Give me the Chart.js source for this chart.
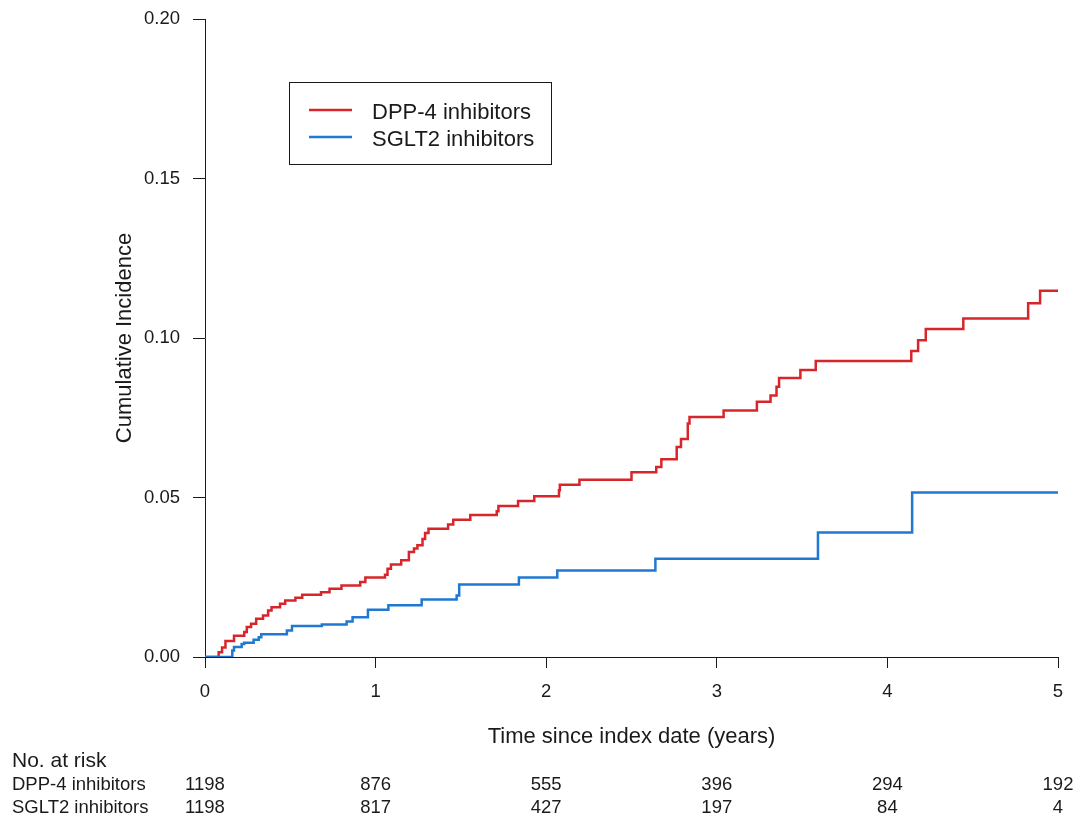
<!DOCTYPE html>
<html>
<head>
<meta charset="utf-8">
<script src="https://cdn.jsdelivr.net/npm/chart.js@4.4.1/dist/chart.umd.min.js"></script>
<style>
  html, body { margin: 0; padding: 0; background: #fff; }
  #wrap { width: 1078px; height: 819px; }
</style>
</head>
<body>
<div id="wrap"><canvas id="kmChart" width="1078" height="819"></canvas></div>
<script>
// cumulative incidence steps (time in years, value after the step)
const dppTimes = [0, 0.08, 0.10, 0.12, 0.17, 0.23, 0.245, 0.27, 0.30, 0.34, 0.37, 0.39, 0.44, 0.47, 0.53, 0.57,
  0.68, 0.73, 0.80, 0.91, 0.94, 1.055, 1.07, 1.09, 1.15, 1.195, 1.225, 1.245, 1.275, 1.29, 1.31, 1.425,
  1.455, 1.555, 1.71, 1.72, 1.835, 1.93, 2.075, 2.08, 2.195, 2.50, 2.645, 2.675, 2.765, 2.79, 2.83, 2.84,
  3.04, 3.235, 3.315, 3.35, 3.365, 3.49, 3.58, 4.14, 4.18, 4.225, 4.445, 4.825, 4.895, 5.0];
const dppInc = [0, 0.0015, 0.003, 0.005, 0.0067, 0.0078, 0.0094, 0.0104, 0.012, 0.013, 0.0146, 0.0156, 0.0167, 0.0177, 0.0186, 0.0195,
  0.0203, 0.0214, 0.0224, 0.0235, 0.0249, 0.0258, 0.0277, 0.029, 0.0303, 0.0329, 0.034, 0.035, 0.037, 0.0389, 0.0402, 0.0415,
  0.043, 0.0445, 0.0457, 0.0473, 0.0489, 0.0504, 0.0523, 0.054, 0.0556, 0.0579, 0.0596, 0.062, 0.0658, 0.0683, 0.0732, 0.0752,
  0.0773, 0.080, 0.082, 0.0847, 0.0875, 0.090, 0.0928, 0.0959, 0.0993, 0.1028, 0.1061, 0.1109, 0.1148, 0.1148];

const sgltTimes = [0, 0.16, 0.17, 0.215, 0.23, 0.285, 0.315, 0.33, 0.48, 0.51, 0.685, 0.83, 0.865, 0.955, 1.075,
  1.27, 1.475, 1.49, 1.84, 2.065, 2.64, 3.593, 4.145, 5.0];
const sgltInc = [0, 0.002, 0.0031, 0.0041, 0.0045, 0.0054, 0.0062, 0.0071, 0.0083, 0.0097, 0.0102, 0.0111, 0.0125, 0.0148, 0.0162,
  0.018, 0.0193, 0.0227, 0.0249, 0.0271, 0.0308, 0.039, 0.0516, 0.0516];

const xTicks = [0, 1, 2, 3, 4, 5];
const yTicks = ['0.00', '0.05', '0.10', '0.15', '0.20'];
const riskDpp = [1198, 876, 555, 396, 294, 192];
const riskSglt = [1198, 817, 427, 197, 84, 4];
const groupNames = ['DPP-4 inhibitors', 'SGLT2 inhibitors'];

const RED = '#d7262b';
const BLUE = '#1f78d2';
const INK = '#1a1a1a';
const FONT = '"Liberation Sans", Arial, sans-serif';

function toPoints(ts, vs) {
  return ts.map((t, i) => ({ x: t, y: vs[i] }));
}

// legend box inside the plot, like R's legend()
const legendBox = {
  id: 'legendBox',
  afterDraw(chart) {
    const ctx = chart.ctx;
    ctx.save();
    ctx.strokeStyle = INK;
    ctx.lineWidth = 1;
    ctx.strokeRect(289.5, 82.5, 262, 82);
    const cols = [RED, BLUE];
    const ys = [110, 137];
    ctx.font = '22px ' + FONT;
    ctx.textBaseline = 'alphabetic';
    ctx.textAlign = 'left';
    for (let i = 0; i < 2; i++) {
      ctx.strokeStyle = cols[i];
      ctx.lineWidth = 2.5;
      ctx.beginPath();
      ctx.moveTo(309, ys[i]);
      ctx.lineTo(352, ys[i]);
      ctx.stroke();
      ctx.fillStyle = INK;
      ctx.fillText(groupNames[i], 372, ys[i] + 9);
    }
    ctx.restore();
  }
};

// number at risk table under the x axis
const riskTable = {
  id: 'riskTable',
  afterDraw(chart) {
    const ctx = chart.ctx;
    const xs = chart.scales.x;
    ctx.save();
    ctx.fillStyle = INK;
    ctx.textBaseline = 'alphabetic';
    ctx.textAlign = 'left';
    ctx.font = '21px ' + FONT;
    ctx.fillText('No. at risk', 12, 767);
    ctx.font = '18.5px ' + FONT;
    ctx.fillText(groupNames[0], 12, 790);
    ctx.fillText(groupNames[1], 12, 813);
    ctx.textAlign = 'center';
    xTicks.forEach((t, i) => {
      const px = xs.getPixelForValue(t);
      ctx.fillText(String(riskDpp[i]), px, 790);
      ctx.fillText(String(riskSglt[i]), px, 813);
    });
    ctx.restore();
  }
};

new Chart(document.getElementById('kmChart'), {
  type: 'line',
  data: {
    datasets: [
      {
        label: groupNames[0],
        data: toPoints(dppTimes, dppInc),
        borderColor: RED,
        borderWidth: 2.5,
        stepped: true,
        pointRadius: 0,
        fill: false,
        order: 1
      },
      {
        label: groupNames[1],
        data: toPoints(sgltTimes, sgltInc),
        borderColor: BLUE,
        borderWidth: 2.5,
        stepped: true,
        pointRadius: 0,
        fill: false,
        order: 0
      }
    ]
  },
  options: {
    responsive: false,
    animation: false,
    devicePixelRatio: 1,
    layout: { padding: { left: 0, top: 19, right: 20, bottom: 0 } },
    plugins: {
      legend: { display: false },
      tooltip: { enabled: false }
    },
    scales: {
      x: {
        type: 'linear',
        min: 0,
        max: 5,
        afterFit(scale) {
          scale.height = 162;
          scale.paddingLeft = 0;
          scale.paddingRight = 0;
        },
        afterBuildTicks(scale) { scale.ticks = xTicks.map(v => ({ value: v })); },
        grid: { drawOnChartArea: false, drawTicks: true, tickLength: 11, color: INK, lineWidth: 1 },
        border: { display: true, color: INK, width: 1 },
        ticks: {
          color: INK,
          padding: 13,
          maxRotation: 0,
          font: { family: FONT, size: 18.5 },
          callback: v => String(v)
        },
        title: {
          display: true,
          text: 'Time since index date (years)',
          color: INK,
          font: { family: FONT, size: 22 },
          padding: { top: 0, bottom: 69 }
        }
      },
      y: {
        type: 'linear',
        min: 0,
        max: 0.2,
        afterFit(scale) {
          scale.width = 205;
          scale.paddingTop = 0;
          scale.paddingBottom = 0;
        },
        afterBuildTicks(scale) { scale.ticks = yTicks.map(s => ({ value: parseFloat(s) })); },
        grid: { drawOnChartArea: false, drawTicks: true, tickLength: 12, color: INK, lineWidth: 1 },
        border: { display: true, color: INK, width: 1 },
        ticks: {
          color: INK,
          padding: 13,
          font: { family: FONT, size: 18.5 },
          callback: (v, i) => yTicks[i]
        },
        title: {
          display: true,
          text: 'Cumulative Incidence',
          color: INK,
          font: { family: FONT, size: 22 },
          padding: { top: 112, bottom: 0 }
        }
      }
    }
  },
  plugins: [legendBox, riskTable]
});
</script>
</body>
</html>
